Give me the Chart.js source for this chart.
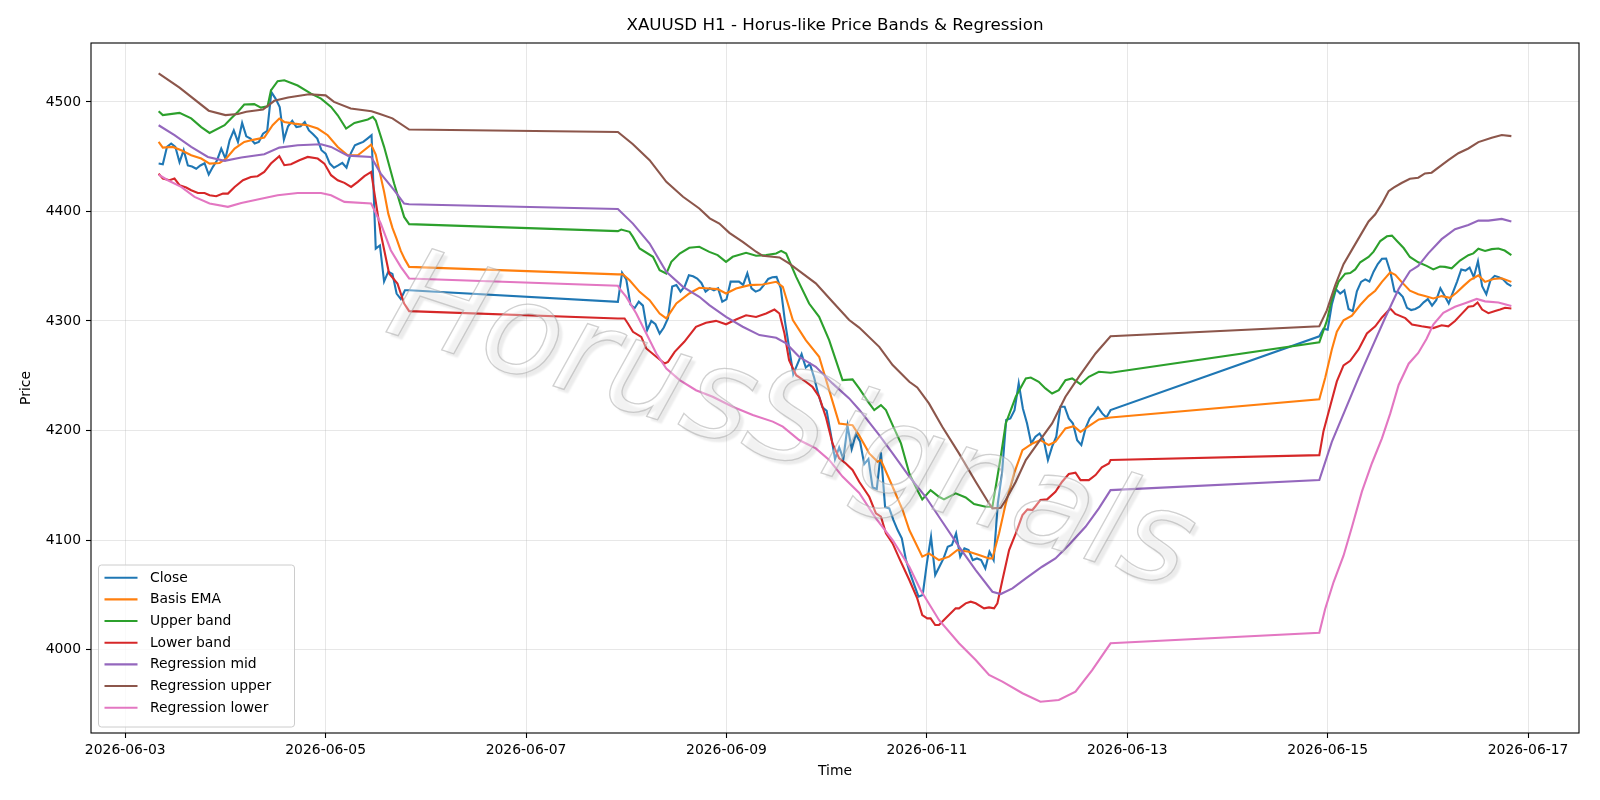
<!DOCTYPE html>
<html><head><meta charset="utf-8">
<script src="https://cdn.jsdelivr.net/npm/chart.js@4.4.1/dist/chart.umd.min.js"></script>
<style>html,body{margin:0;padding:0;background:#fff}canvas{display:block}</style>
</head><body>
<canvas id="c" width="1600" height="800" style="width:1600px;height:800px"></canvas>
<script>
// hours are counted from 2026-06-03 00:00
const tickHours = [0, 48, 96, 144, 192, 240, 288, 336];
const tickLabels = ['2026-06-03','2026-06-05','2026-06-07','2026-06-09','2026-06-11','2026-06-13','2026-06-15','2026-06-17'];
const priceTicks = [4000, 4100, 4200, 4300, 4400, 4500];

const closeData = [
[8,4443.7],[9,4443],[10,4459],[11,4462],[12,4459],[13,4445],[14,4456],[15,4442],[16,4441],[17,4439],[18,4442],[19,4444],[20,4433.7],[21,4440.7],[22,4446.8],[23,4457.4],[24,4448.3],[25,4465],[26,4474],[27,4463.5],[28,4480.8],[29,4468.6],[30,4466.5],[31,4462],[32,4463.5],[33,4471],[34,4473.5],[35,4509],[36,4503],[37,4495.4],[38,4465.6],[39,4477.8],[40,4482.7],[41,4477],[42,4477.8],[43,4481.7],[44,4474],[45,4470.5],[46,4466.5],[47,4455.9],[48,4452.8],[49,4443.7],[50,4440],[51,4442],[52,4444.3],[53,4440],[54,4452.8],[55,4460.4],[56,4462],[57,4463.5],[58,4466.5],[59,4469.6],[60,4366],[61,4369],[62,4336],[63,4345],[64,4343],[65,4325],[66,4320],[67,4328],[68,4328],
[118,4317.5],[119,4344],[120,4338],[121,4315],[122,4311.6],[123,4317.6],[124,4314],[125,4291.6],[126,4300],[127,4297],[128,4288.5],[129,4294],[130,4302.5],[131,4331.4],[132,4332.9],[133,4326.8],[134,4331.5],[135,4341.7],[136,4340.8],[137,4338.7],[138,4334.7],[139,4326.8],[140,4329.8],[141,4328],[142,4329.8],[143,4317.6],[144,4319.7],[145,4335.9],[146,4335.9],[147,4335.9],[148,4332.9],[149,4343.5],[150,4329.8],[151,4326.8],[152,4328.3],[153,4332.9],[154,4338.4],[155,4339.9],[156,4340.2],[157,4330.1],[158,4300.1],[159,4275.8],[160,4251.4],[161,4260.6],[162,4269.7],[163,4257.5],[164,4260.6],[165,4248.4],[166,4233.2],[167,4221.1],[168,4218],[169,4196.7],[170,4173.9],[171,4184.6],[172,4173.9],[173,4204.3],[174,4183],[175,4196.7],[176,4190],[177,4169.3],[178,4173.9],[179,4148],[180,4146.5],[181,4180],[182,4130],[183,4128.9],[184,4118.2],[185,4109.1],[186,4101.5],[187,4081.7],[188,4069.6],[189,4058.9],[190,4048.3],[191,4049.8],[192,4078.7],[193,4103],[194,4068],[195,4075.6],[196,4083.2],[197,4093.9],[198,4095.4],[199,4106.1],[200,4084.8],[201,4092.4],[202,4090.9],[203,4081.7],[204,4083.2],[205,4081.7],[206,4074.1],[207,4089.3],[208,4081.7],[209,4133.4],[210,4160.8],[211,4209.5],[212,4211],[213,4218.6],[214,4243],[215,4220.1],[216,4206.4],[217,4188.2],[218,4194.3],[219,4197.3],[220,4191.2],[221,4173],[222,4185.2],[223,4194.3],[224,4221.7],[225,4221.7],[226,4211],[227,4206.4],[228,4191.2],[229,4186.7],[230,4201.9],[231,4211],[232,4215.6],[233,4221.1],[234,4215.6],[235,4211.9],[236,4218.6],
[286,4286],[287,4293],[288,4292],[289,4315],[290,4329],[291,4325],[292,4328],[293,4311],[294,4309],[295,4327],[296,4335.7],[297,4338],[298,4336],[299,4345],[300,4352],[301,4356.8],[302,4357],[303,4345],[304,4327],[305,4326],[306,4322],[307,4312],[308,4310],[309,4311],[310,4313],[311,4317],[312,4320],[313,4314],[314,4319],[315,4329.9],[316,4323],[317,4316],[318,4326],[319,4336],[320,4347],[321,4346],[322,4348.7],[323,4340],[324,4354.5],[325,4331.8],[326,4324.4],[327,4337.3],[328,4341.2],[329,4340],[330,4338],[331,4334],[332,4331.8]
];

const basisEma = [
[8,4463.5],[9,4458.3],[11.4,4458.9],[13.4,4455.9],[15.8,4451.3],[18.2,4448.3],[20.2,4443.7],[22.6,4444.3],[24.2,4448.3],[26.2,4457.4],[28.5,4463.5],[30.9,4465.6],[33.3,4467.4],[35.3,4478.7],[36.9,4484.8],[38.1,4481.7],[40.5,4480.2],[43.7,4478.7],[46.1,4475.7],[48.5,4469.6],[50.9,4458.9],[53.3,4451.3],[55.7,4451.3],[58.9,4461],[60,4452],[61,4435],[62,4418],[63,4398],[64,4385],[65,4375],[66,4364],[67,4356],[68,4349.4],
[118,4342.5],[119.2,4342.7],[120.8,4337.2],[123.2,4326.6],[125.6,4319],[128,4306.8],[129.6,4302.3],[132,4316],[135.1,4325.1],[137.5,4330.3],[139.9,4329.7],[141.9,4329.1],[143.9,4325.1],[146.3,4329.7],[149.5,4332.7],[152.7,4333.3],[155.9,4335.8],[157.5,4331.2],[159.9,4300.8],[163,4282.5],[166.2,4267.3],[168.6,4236.9],[171,4206.4],[174.2,4204.9],[175.8,4195.5],[178.2,4179.1],[180.2,4171.5],[181,4173],[183.8,4148.6],[186.2,4127.4],[187.8,4109.1],[190.9,4084.8],[192.5,4087.8],[194.9,4081.7],[197.3,4084.8],[199.3,4090.9],[202.1,4089.3],[204.5,4086.3],[206.9,4083.2],[207.7,4083.2],[209.3,4106.1],[210.9,4133.4],[212.9,4160.8],[214.9,4182.1],[217.3,4188.2],[219.2,4191.2],[221.2,4186.7],[222.8,4189.7],[225.2,4201.9],[227.2,4204],[228.8,4198.8],[230.8,4204],[233.2,4210.1],[236,4211.9],
[286,4228.6],[287.4,4248],[289,4274],[290.2,4290.3],[291.8,4300.6],[293.8,4304.9],[295.8,4314.6],[297.8,4322.7],[299.4,4327.6],[301,4335.7],[303,4344.5],[304.2,4342.2],[305.7,4335.7],[307.7,4327.6],[309.7,4324.4],[311.3,4322.7],[313.3,4320.5],[315.3,4322.7],[317.3,4321.1],[318.9,4326],[320.5,4331.8],[322.1,4337.3],[323.3,4339.9],[324.1,4341.6],[325.7,4335.7],[327.7,4338.3],[329.7,4339],[332,4335.7]
];

const upperBand = [
[8,4491.5],[9,4488],[13,4490],[15.8,4485],[18.2,4477],[20.2,4471.7],[23.8,4478.7],[25.4,4485],[27,4491],[28.5,4497.6],[30.9,4498],[32.5,4494.8],[34.1,4496],[34.9,4510.6],[36.5,4519],[38.1,4519.8],[41.3,4515],[44.5,4507.6],[46.9,4503],[49.3,4495.4],[50.9,4487.8],[52.9,4475.7],[54.9,4480.8],[58.1,4484],[59.3,4486.3],[60,4483],[62,4459],[64.4,4425.5],[66.8,4395],[68,4388.4],
[118,4382],[118.8,4383.5],[120.8,4381.4],[121.6,4376.8],[123.2,4366.2],[126.4,4358.6],[128,4346.4],[129.6,4343.3],[130.8,4354],[132.8,4361.6],[135.1,4366.8],[137.5,4367.7],[139.9,4363.1],[141.9,4360.1],[143.9,4354],[145.5,4358.6],[148.7,4362.2],[151.1,4359.5],[153.5,4360.1],[155.9,4361.6],[157.1,4364],[158.3,4361.6],[160.7,4340.3],[163.8,4315.9],[166.2,4303.8],[168.6,4282.5],[170.2,4264.3],[171.8,4246],[174.2,4246.6],[175.8,4238.4],[178.2,4224.7],[179.4,4218.6],[181,4223.2],[182.2,4218.6],[183.8,4204.9],[185.8,4188.2],[187.8,4160.8],[189.7,4145.6],[190.9,4137.1],[192.9,4145.6],[194.9,4139.5],[196.1,4137.1],[198.9,4142.6],[201.3,4138.9],[203.3,4132.8],[206.1,4130.4],[207.7,4130.4],[208.5,4148.6],[209.7,4176],[210.9,4206.4],[213.3,4230.8],[215.7,4247.5],[216.9,4248.4],[218.8,4244.5],[220.4,4238.4],[222,4233.8],[223.6,4236.9],[225.2,4246],[226.8,4247.5],[228.8,4242.3],[230.8,4249],[233.2,4253.6],[236,4252.7],
[286,4280.5],[287.8,4300],[289,4319.5],[290.6,4335.7],[292.2,4343.2],[293.4,4343.8],[294.6,4347.1],[295.8,4353.6],[297.8,4358.4],[299,4363.3],[300.6,4373],[302.2,4377.3],[303.4,4377.9],[304.6,4373],[306.2,4366.6],[307.7,4358.4],[309.7,4353.6],[311.7,4350.3],[313.3,4347.1],[314.9,4349.7],[316.1,4349.4],[317.7,4348.1],[319.7,4355.2],[321.7,4360.1],[322.9,4361.7],[324.1,4365.9],[325.7,4363.9],[327.3,4365.6],[328.9,4366.2],[330.4,4364.3],[332,4360.1]
];

const lowerBand = [
[8,4434.6],[9,4430],[10.6,4428.5],[11.8,4430],[13,4424],[14.6,4421.8],[15.8,4419.4],[17.4,4416.9],[19,4416.9],[20.2,4414.8],[21.8,4413.9],[23.4,4416.3],[24.6,4416.3],[26.2,4422.4],[28.2,4428.5],[30.1,4431.5],[31.7,4432.2],[33.3,4436.1],[34.9,4443.7],[36.9,4450.4],[38.1,4442.2],[39.7,4443.1],[41.7,4446.8],[43.7,4449.8],[46.1,4448.3],[47.7,4443.7],[49.3,4433.1],[50.9,4428.5],[52.5,4426.1],[54.1,4422.4],[55.7,4427],[57.3,4432.2],[58.9,4436.1],[61.2,4379.8],[63.2,4343.3],[65.2,4334.2],[66.8,4315.9],[68,4309],
[118,4302.3],[119.6,4302.3],[120.4,4297.7],[121.6,4290.1],[123.6,4285.5],[124.8,4274.9],[127.2,4267.3],[129.2,4261.2],[130,4262.7],[131.6,4271.8],[133.9,4281],[136.7,4294.6],[139.1,4298.3],[141.5,4300.1],[143.9,4297],[146.3,4301.3],[148.7,4305.2],[151.1,4303.7],[153.5,4306.8],[155.5,4310.4],[156.7,4306.8],[157.9,4288.6],[159,4264.2],[160.7,4250.5],[163,4244.5],[164.6,4239.9],[166.2,4230.8],[167.8,4212.5],[169.4,4188.2],[171,4174.5],[172.6,4169.9],[174.2,4164],[175.8,4153.2],[178.2,4139.5],[179.8,4124.3],[181,4121.3],[182.2,4106.1],[183.8,4096.9],[185.4,4083.2],[187.8,4063.5],[189.7,4046.7],[190.9,4031.5],[192.1,4028.5],[192.9,4028.5],[194,4022.4],[194.9,4022.4],[196.5,4028.5],[198.9,4037.6],[199.7,4037.6],[201.3,4042.2],[202.5,4043.7],[203.7,4042.2],[205.7,4037.6],[206.9,4038.5],[208.1,4037.6],[208.9,4042.2],[210.1,4063.5],[211.7,4090.9],[213.3,4106.1],[214.9,4122.8],[216.1,4128],[217.3,4127.4],[219.2,4136.5],[220.8,4137.1],[222.8,4144.1],[224.4,4153.2],[226,4160.2],[227.6,4161.4],[228.8,4154.7],[230.8,4154.7],[232.4,4159.3],[233.9,4166.3],[235.6,4169.9],[236,4173],
[286,4177.5],[287,4199.4],[288.6,4222.1],[290.2,4244.8],[291.8,4259.4],[293.4,4263.6],[295.4,4274],[297.4,4288.6],[299.4,4295.1],[301,4303.2],[303,4311.4],[304.2,4306.5],[306.6,4302.6],[308.2,4296.8],[310.5,4295.1],[313.3,4293.5],[315.3,4296.1],[316.9,4295.1],[318.5,4300],[320.1,4306.5],[321.7,4313],[322.9,4313.6],[323.9,4316.9],[325,4310.4],[326.5,4307.1],[328.1,4309.1],[329.3,4310.4],[330.5,4312],[332,4311.4]
];

const regressionMid = [
[8,4478.7],[11.8,4469.6],[15.8,4458.9],[19.8,4449.8],[23.8,4446.2],[27.8,4449.2],[33.3,4452.2],[36.9,4458.3],[41.3,4460.4],[46.9,4461.4],[49.3,4458.9],[53.3,4451],[58.9,4449.8],[61.2,4434.6],[64.4,4419.4],[66.8,4407.2],[68,4406.6],
[118,4402.2],[121.6,4388.9],[125.6,4370.7],[129.6,4344.9],[133.6,4331.2],[137.5,4322.1],[139.9,4314.5],[143.9,4303.8],[147.9,4294.7],[151.9,4287.1],[155.9,4284.6],[158.3,4279.5],[161.4,4267.3],[165.4,4258.2],[169.4,4243],[173.4,4229.3],[175.8,4219],[180.6,4195.8],[183.8,4179.1],[187.8,4157.8],[191.7,4139.5],[195.7,4116.7],[199.7,4093.9],[203.7,4072.6],[207.7,4052.8],[209.7,4050.7],[212.5,4055.9],[215.7,4065],[219.6,4075.6],[222.8,4083.2],[226,4095.4],[230,4112.1],[233.2,4128.9],[236,4145.6],
[286,4154.7],[289,4189.6],[292.2,4218.8],[295.4,4248],[298.6,4275.6],[301.8,4303.2],[305,4329.2],[307.7,4345.5],[309.7,4350.3],[312.1,4361.7],[315.3,4374.7],[318.5,4383.8],[321.7,4387.7],[324.1,4391.6],[326.5,4391.6],[329.7,4393.2],[332,4390.9]
];

const regressionUpper = [
[8,4526],[13,4513],[20,4492],[24,4488],[27,4489],[29,4491],[33,4493],[35.7,4501],[39,4504],[44,4507],[48,4506],[50,4500],[54,4494],[59,4491.5],[61,4489],[64,4485],[68,4474.8],
[118,4472.6],[121.6,4461.3],[125.6,4446.8],[129.6,4427],[133.6,4413.4],[137.5,4402.7],[140,4393.7],[142.3,4389],[144.7,4380.5],[147.9,4372.3],[151.1,4363.2],[152.7,4359.5],[156.7,4358],[159,4352.5],[161.4,4345.8],[165.4,4334.4],[169.4,4317.6],[173.4,4300.9],[175.8,4294],[180.6,4276.4],[183.8,4259.7],[187.8,4244.5],[189.7,4239.3],[192.5,4224.7],[195.7,4203.4],[199.7,4179.1],[203.7,4153.2],[206.9,4133.4],[207.7,4128.9],[209.7,4129.5],[210.9,4136.5],[213.3,4153.2],[215.7,4173],[218.8,4189.7],[222,4206.4],[225.2,4230.8],[228.4,4249],[232.4,4270.3],[236,4286.1],
[286,4295.2],[287.8,4309.7],[289.8,4332.5],[291.8,4351.9],[293.8,4364.9],[295.8,4377.9],[297.8,4390.9],[299.4,4397.4],[301,4407.1],[302.6,4418.5],[303.8,4421.8],[305.7,4426],[307.7,4429.9],[309.7,4430.8],[311.3,4434.7],[312.9,4435.4],[314.9,4441.2],[316.9,4446.8],[319.3,4453.2],[321.7,4457.5],[324.1,4463.3],[327.3,4467.2],[329.7,4469.8],[332,4468.8]
];

const regressionLower = [
[8,4433.7],[10.2,4428.5],[13.4,4422.4],[16.6,4413.3],[20.2,4407.2],[24.6,4404.2],[27.8,4407.8],[31.7,4410.9],[36.5,4414.8],[41.3,4416.9],[46.9,4416.9],[49.3,4414.8],[52.5,4408.7],[58.9,4407.2],[61.2,4389],[63.6,4364.6],[66,4349.4],[68,4338.8],
[118,4332.1],[118.4,4329.6],[120,4322],[122.4,4306.8],[124.8,4288.6],[127.2,4270.3],[129.6,4256.6],[132.8,4246],[136.7,4236.8],[140.7,4230.8],[145.5,4221.7],[150.3,4214.1],[155.1,4208.1],[157.5,4203.5],[161.4,4191.3],[165.4,4183.7],[168.6,4173.1],[171.8,4157.9],[175.8,4143],[179.8,4119.7],[183.8,4100],[187.8,4075.6],[190.5,4054.3],[194.9,4027],[199.7,4005.7],[203.7,3990.5],[206.9,3976.8],[210.1,3970.7],[214.9,3960.1],[219.2,3952.4],[223.6,3953.9],[227.6,3961.6],[231.6,3981.3],[236,4005.7],
[286,4015.3],[287.4,4037],[289.4,4061.4],[291.8,4085.7],[293.8,4111.7],[296.2,4144.2],[298.6,4170.1],[301,4192.9],[303,4215.6],[305,4241.6],[307.4,4261],[309.7,4270.8],[311.7,4283.8],[313.3,4296.8],[315.7,4307.5],[318.5,4313],[320.9,4316.2],[323.7,4320.1],[325.7,4317.9],[328.9,4316.9],[332,4313.6]
];

const seriesList = [
  {label:'Close', data: closeData, color:'#1f77b4'},
  {label:'Basis EMA', data: basisEma, color:'#ff7f0e'},
  {label:'Upper band', data: upperBand, color:'#2ca02c'},
  {label:'Lower band', data: lowerBand, color:'#d62728'},
  {label:'Regression mid', data: regressionMid, color:'#9467bd'},
  {label:'Regression upper', data: regressionUpper, color:'#8c564b'},
  {label:'Regression lower', data: regressionLower, color:'#e377c2'}
];

const FONT = '"DejaVu Sans", "Liberation Sans", sans-serif';
const AREA = {left: 91, top: 43, right: 1579, bottom: 733};

const decor = {
  id: 'decor',
  beforeDraw(chart) {
    const c = chart.ctx;
    c.save(); c.fillStyle = '#ffffff'; c.fillRect(0, 0, chart.width, chart.height); c.restore();
  },
  afterDatasetsDraw(chart) {
    const c = chart.ctx;
    c.save();
    c.translate(790, 428);
    c.rotate(18 * Math.PI / 180);
    c.font = 'italic 128px ' + FONT;
    c.textAlign = 'center';
    c.textBaseline = 'middle';
    c.shadowColor = 'rgba(0,0,0,0.22)';
    c.shadowOffsetX = 4; c.shadowOffsetY = 4; c.shadowBlur = 2;
    c.fillStyle = 'rgba(255,255,255,0.35)';
    c.fillText('HorusSignals', 0, 0);
    c.shadowColor = 'transparent';
    c.strokeStyle = 'rgba(170,170,170,0.55)';
    c.lineWidth = 1.3;
    c.strokeText('HorusSignals', 0, 0);
    c.restore();
  },
  afterDraw(chart) {
    const c = chart.ctx;
    const a = chart.chartArea;
    c.save();
    c.strokeStyle = '#000'; c.lineWidth = 1.1;
    c.strokeRect(a.left, a.top, a.right - a.left, a.bottom - a.top);
    c.fillStyle = '#000';
    c.textAlign = 'center'; c.textBaseline = 'middle';
    c.font = '16.7px ' + FONT;
    c.fillText('XAUUSD H1 - Horus-like Price Bands & Regression', (a.left + a.right) / 2, 26);
    c.font = '13.9px ' + FONT;
    c.fillText('Time', (a.left + a.right) / 2, 771);
    c.save();
    c.translate(26, (a.top + a.bottom) / 2);
    c.rotate(-Math.PI / 2);
    c.fillText('Price', 0, 0);
    c.restore();
    // legend
    const lx = 98.5, ly = 565, lw = 196, lh = 162;
    c.beginPath();
    c.roundRect(lx, ly, lw, lh, 3);
    c.fillStyle = 'rgba(255,255,255,0.8)'; c.fill();
    c.strokeStyle = '#cccccc'; c.lineWidth = 1; c.stroke();
    c.textAlign = 'left';
    c.font = '13.9px ' + FONT;
    seriesList.forEach((s, i) => {
      const y = 577.7 + i * 21.67;
      c.beginPath(); c.moveTo(104.5, y); c.lineTo(137.5, y);
      c.strokeStyle = s.color; c.lineWidth = 2.1; c.stroke();
      c.fillStyle = '#000';
      c.fillText(s.label, 150, y + 0.5);
    });
    c.restore();
  }
};

new Chart(document.getElementById('c'), {
  type: 'line',
  data: {
    datasets: seriesList.map((s, i) => ({
      label: s.label,
      data: s.data.map(p => ({x: p[0], y: p[1]})),
      borderColor: s.color,
      backgroundColor: s.color,
      borderWidth: 2.1,
      pointRadius: 0,
      tension: 0,
      fill: false,
      order: seriesList.length - i
    }))
  },
  options: {
    responsive: false,
    animation: false,
    devicePixelRatio: 1,
    layout: {padding: {left: 0, right: 1600 - AREA.right, top: AREA.top, bottom: 0}},
    plugins: {legend: {display: false}, title: {display: false}, tooltip: {enabled: false}},
    events: [],
    scales: {
      x: {
        type: 'linear', min: -8.2, max: 348.2,
        afterBuildTicks(s) { s.ticks = tickHours.map(v => ({value: v})); },
        afterFit(s) { s.height = 800 - AREA.bottom; },
        ticks: {
          callback(v) { const k = tickHours.indexOf(v); return k >= 0 ? tickLabels[k] : ''; },
          color: '#000', font: {family: FONT, size: 13.9}, padding: 4, maxRotation: 0, autoSkip: false
        },
        grid: {color: 'rgba(176,176,176,0.3)', lineWidth: 1, tickColor: '#000', tickLength: 5, tickWidth: 1.1},
        border: {display: false}
      },
      y: {
        type: 'linear', min: 3923.8, max: 4553.8,
        afterBuildTicks(s) { s.ticks = priceTicks.map(v => ({value: v})); },
        afterFit(s) { s.width = AREA.left; },
        ticks: {
          callback(v) { return String(v); },
          color: '#000', font: {family: FONT, size: 13.9}, padding: 5
        },
        grid: {color: 'rgba(176,176,176,0.3)', lineWidth: 1, tickColor: '#000', tickLength: 5, tickWidth: 1.1},
        border: {display: false}
      }
    }
  },
  plugins: [decor]
});
</script>
</body></html>
